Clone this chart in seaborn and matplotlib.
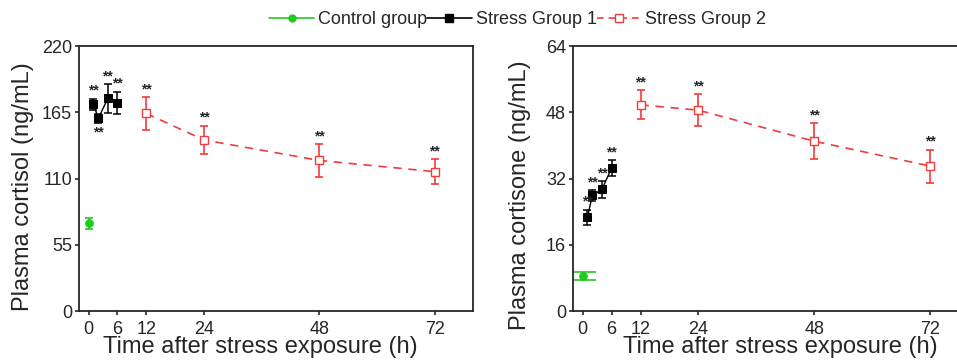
import numpy as np
import pandas as pd
import matplotlib
matplotlib.use("Agg")
import matplotlib.pyplot as plt
import seaborn as sns

# ---- data ----
ctrl_t = [0]
s1_t = [1, 2, 4, 6]
s2_t = [12, 24, 48, 72]

cortisol_ctrl = [72.8]
cortisol_ctrl_err = [4.5]
cortisol_s1 = [171.8, 160.0, 176.5, 172.7]
cortisol_s1_err = [4.5, 3.5, 12.0, 9.5]
cortisol_s2 = [164.0, 142.0, 125.0, 115.7]
cortisol_s2_err = [13.5, 12.0, 13.6, 10.5]

cortisone_ctrl = [8.45]
cortisone_ctrl_err = [1.05]
cortisone_s1 = [22.6, 27.9, 29.4, 34.5]
cortisone_s1_err = [1.9, 1.3, 2.0, 1.9]
cortisone_s2 = [49.8, 48.5, 41.0, 35.0]
cortisone_s2_err = [3.5, 3.9, 4.4, 4.0]

x_ticks = [0, 6, 12, 24, 48, 72]
cortisol_yticks = [0, 55, 110, 165, 220]
cortisone_yticks = [0, 16, 32, 48, 64]

labels = ["Control group", "Stress Group 1", "Stress Group 2"]
GREEN = "#1ecb1e"
BLACK = "#000000"
RED = "#f23b3b"

sns.set_style("ticks")
plt.rcParams["font.family"] = ["Liberation Sans", "DejaVu Sans"]
plt.rcParams["axes.linewidth"] = 1.3

fig = plt.figure(figsize=(9.57, 3.61), dpi=100)
ax1 = fig.add_axes([0.0826, 0.1385, 0.4117, 0.734])
ax2 = fig.add_axes([0.5987, 0.1385, 0.4137, 0.734])


def draw(ax, ctrl, ctrl_err, s1, s1_err, s2, s2_err, yticks, ylabel, ctrl_cap,
         star_below, xlab_pos, ylab_pos):
    ymax = yticks[-1]
    # control
    sns.lineplot(x=ctrl_t, y=ctrl, ax=ax, color=GREEN, marker="o", markersize=5.5,
                 markeredgecolor=GREEN, linewidth=1.2, label=labels[0], zorder=3)
    ax.errorbar(ctrl_t, ctrl, yerr=ctrl_err, fmt="none", ecolor=GREEN,
                elinewidth=1.2, capsize=ctrl_cap, capthick=1.2, zorder=2)
    # stress group 1
    sns.lineplot(x=s1_t, y=s1, ax=ax, color=BLACK, marker="s", markersize=5.5,
                 markeredgecolor=BLACK, linewidth=1.0, label=labels[1], zorder=3)
    ax.errorbar(s1_t, s1, yerr=s1_err, fmt="none", ecolor=BLACK,
                elinewidth=1.1, capsize=3, capthick=1.1, zorder=2)
    # stress group 2
    sns.lineplot(x=s2_t, y=s2, ax=ax, color=RED, marker="s", markersize=5.5,
                 markerfacecolor="white", markeredgecolor=RED, markeredgewidth=1.0,
                 linewidth=1.2, linestyle=(0, (5, 4)), label=labels[2], zorder=3)
    ax.errorbar(s2_t, s2, yerr=s2_err, fmt="none", ecolor=RED,
                elinewidth=1.2, capsize=3, capthick=1.2, zorder=2)
    # significance stars
    off = ymax * 0.012
    for i, (t, v, e) in enumerate(zip(s1_t, s1, s1_err)):
        if i in star_below:
            ax.text(t, v - e - off, "**", ha="center", va="top", fontsize=10, fontweight="bold")
        else:
            ax.text(t, v + e + off * 0.3, "**", ha="center", va="bottom", fontsize=10, fontweight="bold")
    for t, v, e in zip(s2_t, s2, s2_err):
        ax.text(t, v + e + off * 0.3, "**", ha="center", va="bottom", fontsize=10, fontweight="bold")

    ax.set_xlim(-2, 80)
    ax.set_ylim(0, ymax)
    ax.set_xticks(x_ticks)
    ax.set_yticks(yticks)
    ax.tick_params(axis="x", labelsize=13, length=3, width=1.2, pad=4, direction="out")
    ax.tick_params(axis="y", labelsize=13, length=3, width=1.2, pad=2, direction="out")
    ax.set_xlabel("Time after stress exposure (h)", fontsize=17)
    ax.set_ylabel(ylabel, fontsize=17)
    ax.xaxis.set_label_coords(xlab_pos, -0.095, transform=ax.transAxes)
    ax.xaxis.label.set_va("top")
    ax.yaxis.set_label_coords(ylab_pos[0], ylab_pos[1], transform=ax.transAxes)
    for s in ax.spines.values():
        s.set_visible(True)
        s.set_linewidth(1.3)
    ax.legend_.remove()


draw(ax1, cortisol_ctrl, cortisol_ctrl_err, cortisol_s1, cortisol_s1_err,
     cortisol_s2, cortisol_s2_err, cortisol_yticks, "Plasma cortisol (ng/mL)", 3, [1],
     0.459, (-0.115, 0.47))
draw(ax2, cortisone_ctrl, cortisone_ctrl_err, cortisone_s1, cortisone_s1_err,
     cortisone_s2, cortisone_s2_err, cortisone_yticks, "Plasma cortisone (ng/mL)", 9, [],
     0.524, (-0.105, 0.438))

handles = [
    matplotlib.lines.Line2D([], [], color=GREEN, marker="o", markersize=5, linewidth=1.2),
    matplotlib.lines.Line2D([], [], color=BLACK, marker="s", markersize=6, linewidth=1.2),
    matplotlib.lines.Line2D([], [], color=RED, marker="s", markersize=6, markerfacecolor="white",
                            linewidth=1.2, linestyle=(0, (4, 3))),
]
fig.legend(handles, labels, loc="center", bbox_to_anchor=(0.541, 0.945), ncol=3,
           frameon=False, fontsize=13, handlelength=2.5, handletextpad=0.2,
           columnspacing=0.0, borderpad=0)

fig.savefig("out.png", dpi=100)
